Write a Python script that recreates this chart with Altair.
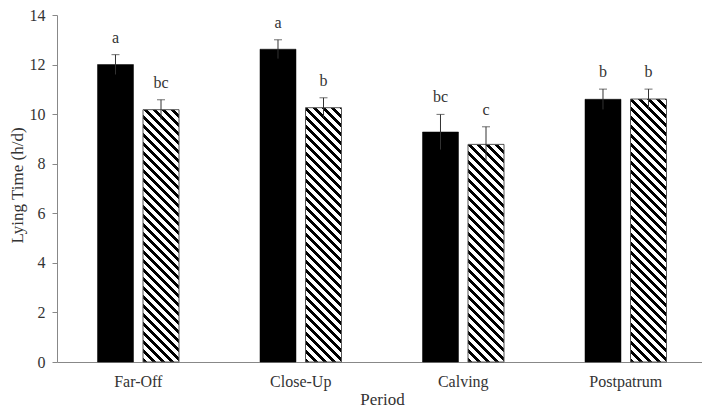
import altair as alt
import pandas as pd

# ---- data ----
periods = ["Far-Off", "Close-Up", "Calving", "Postpatrum"]
groups = ["solid", "hatched"]
solid_vals = [12.0, 12.62, 9.28, 10.6]
solid_err = [0.4, 0.38, 0.71, 0.41]
solid_letters = ["a", "a", "bc", "b"]
hatched_vals = [10.18, 10.26, 8.78, 10.61]
hatched_err = [0.4, 0.4, 0.71, 0.4]
hatched_letters = ["bc", "b", "c", "b"]

rows = []
for p, v, e, l in zip(periods, solid_vals, solid_err, solid_letters):
    rows.append({"period": p, "group": "solid", "value": v, "err": e, "letter": l})
for p, v, e, l in zip(periods, hatched_vals, hatched_err, hatched_letters):
    rows.append({"period": p, "group": "hatched", "value": v, "err": e, "letter": l})
df = pd.DataFrame(rows)
df["lo"] = df["value"] - df["err"]
df["hi"] = df["value"] + df["err"]

FONT = "Liberation Serif"
PLOT_W = 645
RANGE_W = 650
PLOT_H = 347
YMAX = 14
SUB_PI = 0.209
SUB_PO = 0.89

step = RANGE_W / len(periods)
sub_step = step / (2 - SUB_PI + 2 * SUB_PO)
bar_w = sub_step * (1 - SUB_PI)

x_enc = alt.X(
    "period:N",
    scale=alt.Scale(domain=periods, range=[0, RANGE_W], paddingInner=0, paddingOuter=0),
    axis=alt.Axis(
        title="Period", labelAngle=0, ticks=False, labelPadding=11,
        titleY=42, titleBaseline="alphabetic",
    ),
)
xo_enc = alt.XOffset(
    "group:N", scale=alt.Scale(domain=groups, paddingInner=SUB_PI, paddingOuter=SUB_PO)
)
y_scale = alt.Scale(domain=[0, YMAX], nice=False, zero=True)


def hatch_gradient(h_px, w_px, period_px=9.0, frac=0.45):
    k = w_px / h_px
    s = (k + 1) / (k * k + 1)
    n = (w_px + h_px) / period_px
    stops = []
    i = 0
    while i / n < 1:
        o0 = i / n
        o1 = min((i + frac) / n, 1.0)
        o2 = min((i + 1) / n, 1.0)
        stops += [
            {"offset": o0, "color": "#000000"},
            {"offset": o1, "color": "#000000"},
            {"offset": o1, "color": "#ffffff"},
            {"offset": o2, "color": "#ffffff"},
        ]
        i += 1
    return {
        "gradient": "linear",
        "x1": 0, "y1": 1,
        "x2": s * k, "y2": 1 - s,
        "stops": stops,
    }


base = alt.Chart(df)

solid_bars = base.transform_filter(alt.datum.group == "solid").mark_bar(
    color="#000000", stroke="#000000", strokeWidth=0.5
).encode(
    x=x_enc,
    xOffset=xo_enc,
    y=alt.Y(
        "value:Q", scale=y_scale,
        axis=alt.Axis(
            title="Lying Time (h/d)", values=list(range(0, 15, 2)), grid=False,
            tickSize=5, labelPadding=7, titleAngle=-90, titleBaseline="middle",
            titleX=-40, titleY=170, titleAlign="center",
        ),
    ),
)

hatch_layers = []
for p, v in zip(periods, hatched_vals):
    h_px = v / YMAX * PLOT_H
    grad = hatch_gradient(h_px, bar_w)
    hatch_layers.append(
        base.transform_filter(
            (alt.datum.group == "hatched") & (alt.datum.period == p)
        ).mark_bar(fill=grad, stroke="#555555", strokeWidth=1).encode(
            x=x_enc, xOffset=xo_enc, y=alt.Y("value:Q", scale=y_scale)
        )
    )

err_rules = base.mark_rule(color="#333333", strokeWidth=1).encode(
    x=x_enc, xOffset=xo_enc,
    y=alt.Y("lo:Q", scale=y_scale), y2="hi:Q",
)
err_caps = base.mark_tick(orient="horizontal", size=8, thickness=1, color="#333333").encode(
    x=x_enc, xOffset=xo_enc, y=alt.Y("hi:Q", scale=y_scale)
)
letters = base.mark_text(
    baseline="alphabetic", dy=-12, fontSize=16, font=FONT, color="#333333"
).encode(
    x=x_enc, xOffset=xo_enc, y=alt.Y("hi:Q", scale=y_scale), text="letter:N"
)

chart = alt.layer(solid_bars, *hatch_layers, err_rules, err_caps, letters).properties(
    width=PLOT_W,
    height=PLOT_H,
    background="white",
    autosize=alt.AutoSizeParams(type="none"),
    padding={"left": 49, "top": 7, "right": 0, "bottom": 46},
).configure_view(stroke=None).configure_axis(
    labelFont=FONT, titleFont=FONT, labelFontSize=16, titleFontSize=17,
    labelColor="#333333", titleColor="#333333", domainColor="#888888",
    tickColor="#888888", titleFontWeight="normal",
)

chart.save("out.html", embed_options={"renderer": "svg", "actions": False})
